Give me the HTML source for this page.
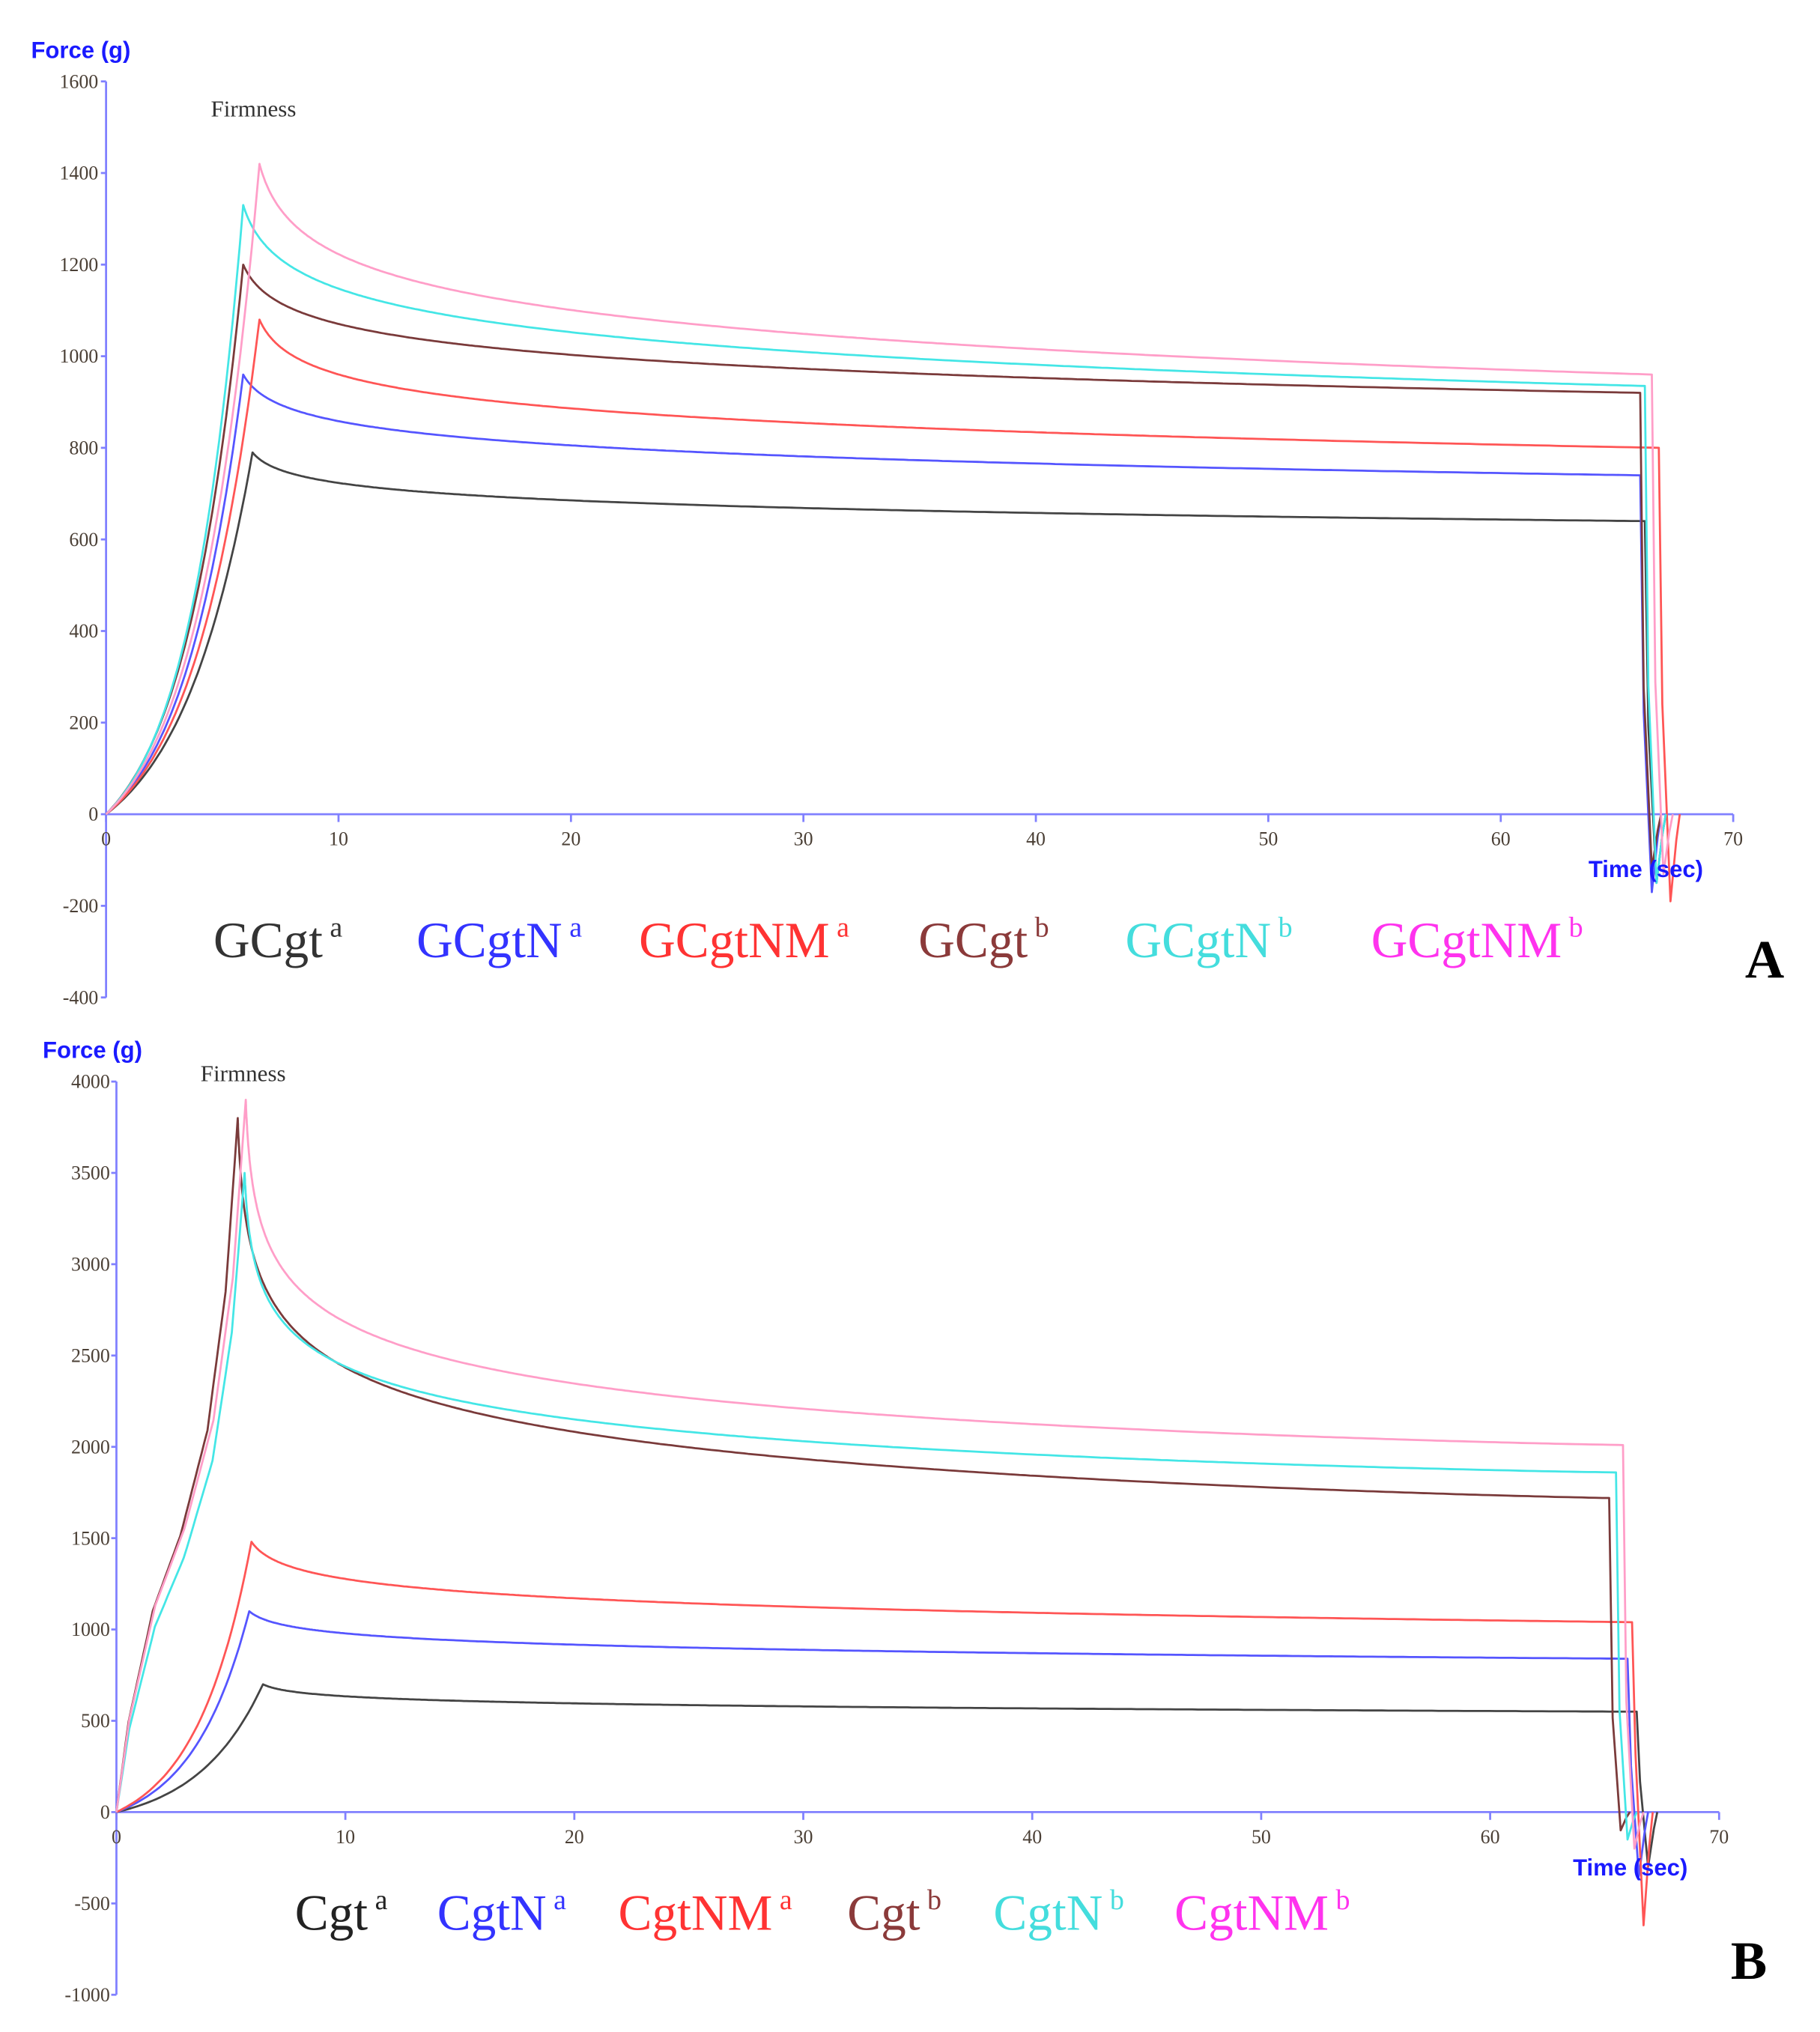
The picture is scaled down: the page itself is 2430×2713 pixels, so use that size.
<!DOCTYPE html>
<html><head><meta charset="utf-8">
<style>
html,body{margin:0;padding:0;background:#fff;}
svg{display:block;}
.tk{font-family:"Liberation Serif",serif;font-size:15px;fill:#4a3f35;}
.ax{font-family:"Liberation Sans",sans-serif;font-weight:bold;font-size:18px;fill:#1a1aff;}
.lg{font-family:"Liberation Serif",serif;font-size:39px;}
.sp{font-family:"Liberation Serif",serif;font-size:22px;}
.fm{font-family:"Liberation Serif",serif;font-size:18px;fill:#333;}
.big{font-family:"Liberation Serif",serif;font-size:42px;font-weight:bold;fill:#000;}
</style></head><body>
<svg id="s" width="2430" height="2713" viewBox="0 0 1407 1571" preserveAspectRatio="none" xmlns="http://www.w3.org/2000/svg">
<g id="axes" stroke="#8080ff" stroke-width="1.6" fill="none"></g>
<g id="curves" fill="none" stroke-width="1.6" stroke-linejoin="round"></g>
<g id="txt"></g>
<text class="ax" x="24" y="45">Force (g)</text>
<text class="ax" x="1228" y="678">Time (sec)</text>
<text class="fm" x="163" y="90">Firmness</text>
<text class="ax" x="33" y="818">Force (g)</text>
<text class="ax" x="1216" y="1450">Time (sec)</text>
<text class="fm" x="155" y="836">Firmness</text>
<text class="lg" x="165" y="740" fill="#333">GCgt<tspan class="sp" dy="-16"> a</tspan></text>
<text class="lg" x="322" y="740" fill="#3333ff">GCgtN<tspan class="sp" dy="-16"> a</tspan></text>
<text class="lg" x="494" y="740" fill="#ff3333">GCgtNM<tspan class="sp" dy="-16"> a</tspan></text>
<text class="lg" x="710" y="740" fill="#8b3a3a">GCgt<tspan class="sp" dy="-16"> b</tspan></text>
<text class="lg" x="870" y="740" fill="#44dddd">GCgtN<tspan class="sp" dy="-16"> b</tspan></text>
<text class="lg" x="1060" y="740" fill="#ff33ee">GCgtNM<tspan class="sp" dy="-16"> b</tspan></text>
<text class="big" x="1349" y="756">A</text>
<text class="lg" x="228" y="1492" fill="#222">Cgt<tspan class="sp" dy="-16"> a</tspan></text>
<text class="lg" x="338" y="1492" fill="#3333ff">CgtN<tspan class="sp" dy="-16"> a</tspan></text>
<text class="lg" x="478" y="1492" fill="#ff3333">CgtNM<tspan class="sp" dy="-16"> a</tspan></text>
<text class="lg" x="655" y="1492" fill="#8b3a3a">Cgt<tspan class="sp" dy="-16"> b</tspan></text>
<text class="lg" x="768" y="1492" fill="#44dddd">CgtN<tspan class="sp" dy="-16"> b</tspan></text>
<text class="lg" x="908" y="1492" fill="#ff33ee">CgtNM<tspan class="sp" dy="-16"> b</tspan></text>
<text class="big" x="1338" y="1530">B</text>
</svg>
<script>
var NS="http://www.w3.org/2000/svg";
function el(p,tag,a,t){var e=document.createElementNS(NS,tag);for(var k in a)e.setAttribute(k,a[k]);if(t!==undefined)e.textContent=t;document.getElementById(p).appendChild(e);return e;}
function interp(an,x){if(x<=an[0][0])return an[0][1];for(var i=1;i<an.length;i++){if(x<=an[i][0]){var a=an[i-1],b=an[i];return a[1]+(b[1]-a[1])*(x-a[0])/(b[0]-a[0]);}}return an[an.length-1][1];}
var P=[
 {x0:82,sx:17.97,y0:629.5,sy:0.3541,ymin:-400,ymax:1600,ystep:200,ylx:76},
 {x0:90,sx:17.7,y0:1401,sy:0.1412,ymin:-1000,ymax:4000,ystep:500,ylx:85}
];
P.forEach(function(p){
  var top=p.y0-p.ymax*p.sy, bot=p.y0-p.ymin*p.sy;
  el("axes","line",{x1:p.x0,y1:top,x2:p.x0,y2:bot});
  el("axes","line",{x1:p.x0,y1:p.y0,x2:p.x0+70*p.sx,y2:p.y0});
  for(var v=p.ymin;v<=p.ymax;v+=p.ystep){var y=p.y0-v*p.sy;el("axes","line",{x1:p.x0-4,y1:y,x2:p.x0,y2:y});el("txt","text",{"class":"tk",x:p.ylx,y:y+5,"text-anchor":"end"},String(v));}
  for(var t=0;t<=70;t+=10){var x=p.x0+t*p.sx;el("axes","line",{x1:x,y1:p.y0,x2:x,y2:p.y0+6});el("txt","text",{"class":"tk",x:x,y:p.y0+24,"text-anchor":"middle"},String(t));}
});
function logdec(a,pw){return function(dt){var r=1-Math.log(1+dt/a)/Math.log(1+60/a);if(r<0)r=0;return Math.pow(r,pw);};}
var decA=logdec(0.5,1), decBa=logdec(0.5,1), decBb=logdec(0.1,1.15);
var riseB=[[0,0],[0.1,0.13],[0.3,0.29],[0.53,0.4],[0.75,0.55],[0.9,0.75],[1,1]];
function curve(pi,col,tp,Fp,te,Fe,Fmin,dec,rise,k){
  var p=P[pi],pts=[];
  function add(t,F){pts.push((p.x0+t*p.sx).toFixed(1)+","+(p.y0-F*p.sy).toFixed(1));}
  for(var i=0;i<=40;i++){var t=tp*i/40,F;
    if(rise)F=Fp*interp(rise,i/40);else F=Fp*(Math.exp(k*i/40)-1)/(Math.exp(k)-1);add(t,F);}
  var tot=te-tp;
  for(var j=1;j<=400;j++){var dt=tot*Math.pow(j/400,2);var r=dec(dt*60/tot);add(tp+dt,Fe+(Fp-Fe)*r);}
  add(te,Fe);add(te+0.15,Fe*0.3);add(te+0.5,Fmin);add(te+0.75,Fmin*0.3);add(te+0.9,0);
  el("curves","polyline",{points:pts.join(" "),stroke:col});
}
curve(0,"#444",6.3,790,66.2,640,-150,decA,null,2.0);
curve(0,"#5555ff",5.9,960,66.0,740,-170,decA,null,2.2);
curve(0,"#ff5555",6.6,1080,66.8,800,-190,decA,null,2.3);
curve(0,"#7a3a3a",5.9,1200,66.0,920,-120,decA,null,2.3);
curve(0,"#44e6e6",5.9,1330,66.2,935,-150,decA,null,2.5);
curve(0,"#ff9ec8",6.6,1420,66.5,960,-130,decA,null,2.5);
curve(1,"#444",6.4,700,66.4,550,-300,decBa,null,2.2);
curve(1,"#5555ff",5.8,1100,66.0,840,-350,decBa,null,2.3);
curve(1,"#ff5555",5.9,1480,66.2,1040,-620,decBa,null,2.4);
curve(1,"#7a3a3a",5.3,3800,65.2,1720,-100,decBb,riseB,0);
curve(1,"#44e6e6",5.6,3500,65.5,1860,-150,decBb,riseB,0);
curve(1,"#ff9ec8",5.65,3900,65.8,2010,-200,decBb,riseB,0);
</script>
</body></html>
